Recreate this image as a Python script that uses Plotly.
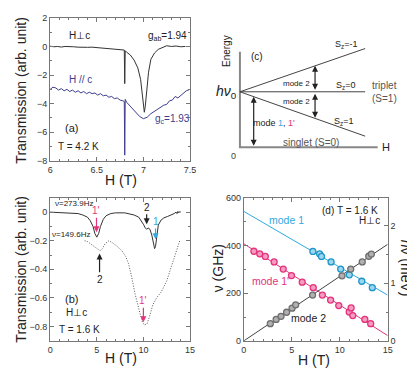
import plotly.graph_objects as go

# ---------------- data ----------------
# (a) transmission vs field, 4.2 K
a_perp_h = [6.00, 6.04, 6.08, 6.12, 6.16, 6.20, 6.25, 6.30, 6.35, 6.40, 6.45, 6.50, 6.55, 6.60, 6.65, 6.70,
            6.75, 6.795, 6.80, 6.805, 6.82, 6.86, 6.90, 6.94, 6.97, 6.99, 7.01, 7.02, 7.035, 7.055, 7.08,
            7.12, 7.16, 7.20, 7.25, 7.30, 7.35, 7.40, 7.45]
a_perp_t = [0.02, -0.02, 0.0, -0.04, 0.0, -0.03, -0.02, -0.05, -0.03, -0.06, -0.05, -0.08, -0.07, -0.1, -0.12, -0.16,
            -0.2, -0.25, -2.6, -0.3, -0.4, -0.6, -0.95, -1.5, -2.3, -3.5, -4.6, -4.2, -3.0, -1.8, -0.9,
            -0.45, -0.2, -0.08, 0.05, 0.0, 0.03, -0.02, 0.0]
a_par_h = [6.00, 6.03, 6.06, 6.09, 6.12, 6.15, 6.18, 6.21, 6.24, 6.27, 6.30, 6.33, 6.36, 6.39, 6.42, 6.45,
           6.48, 6.51, 6.54, 6.57, 6.60, 6.63, 6.66, 6.69, 6.72, 6.75, 6.78, 6.795, 6.80, 6.805, 6.82,
           6.86, 6.91, 6.96, 7.00, 7.04, 7.08, 7.13, 7.19, 7.22, 7.25, 7.28, 7.31, 7.34, 7.37, 7.40,
           7.43, 7.46, 7.50]
a_par_t = [-3.0, -2.85, -2.9, -3.05, -2.95, -3.1, -3.0, -3.15, -3.05, -3.2, -3.1, -3.25, -3.15, -3.3, -3.2, -3.3,
           -3.25, -3.4, -3.3, -3.45, -3.4, -3.55, -3.5, -3.65, -3.6, -3.75, -3.8, -3.85, -7.6, -3.7, -3.9,
           -4.2, -4.5, -4.9, -5.05, -4.95, -4.7, -4.5, -4.25, -4.1, -4.05, -3.8, -3.75, -3.5, -3.6, -3.45,
           -3.3, -3.1, -3.0]

# (b) transmission at 1.6 K
b_hi_h = [0, 1, 2, 3, 3.5, 4.0, 4.3, 4.6, 4.8, 5.0, 5.2, 5.4, 5.7, 6.0, 6.5, 7, 8, 9, 9.5, 9.8, 10.0,
          10.2, 10.35, 10.5, 10.7, 10.9, 11.05, 11.2, 11.3, 11.45, 11.6, 11.9, 12.2, 12.6, 13.0, 13.3,
          13.5, 13.6, 13.7, 13.8, 13.9, 14.0]
b_hi_t = [0, -0.005, -0.005, -0.01, -0.02, -0.035, -0.06, -0.1, -0.15, -0.175, -0.15, -0.1, -0.05, -0.025,
          -0.01, -0.005, -0.005, -0.02, -0.035, -0.06, -0.085, -0.11, -0.12, -0.11, -0.12, -0.16, -0.22,
          -0.255, -0.24, -0.16, -0.09, -0.055, -0.04, -0.03, -0.02, -0.01, 0.0, -0.01, 0.005, -0.005, 0.005, 0.0]
b_lo_h = [3.7, 4.0, 4.4, 4.8, 5.1, 5.35, 5.6, 5.9, 6.3, 6.7, 7.2, 7.7, 8.1, 8.4, 8.7, 9.1, 9.6, 9.9,
          10.1, 10.4, 10.7, 11.0, 11.4, 11.9, 12.5, 13.0, 13.3, 13.6, 13.9]
b_lo_t = [-0.2, -0.205, -0.225, -0.245, -0.26, -0.27, -0.255, -0.22, -0.2, -0.215, -0.24, -0.27, -0.31,
          -0.36, -0.44, -0.57, -0.7, -0.77, -0.79, -0.78, -0.72, -0.65, -0.6, -0.56, -0.48, -0.38, -0.32,
          -0.25, -0.2]

# (c) level scheme: S_z levels vs H (schematic units)
lvl_h = [0, 1.0]
lvl_m1 = [1.0, 1.78]
lvl_0 = [1.0, 1.0]
lvl_p1 = [1.0, 0.2]

# (d) frequency-field diagram
m1p_h = [1.05, 1.66, 2.24, 3.16, 4.11, 4.97, 6.09, 7.24, 8.19, 9.05, 9.9, 10.99, 11.19, 11.36, 12.62, 13.23]
m1p_v = [376, 365, 354, 331, 301, 274, 246, 223, 192, 171, 148, 121, 138, 106, 90, 72]
m1_h = [7.2, 7.9, 8.1, 9.1, 10.1, 11.0, 12.3, 13.4]
m1_v = [375, 365, 354, 331, 301, 277, 250, 223]
m2_h = [2.76, 3.37, 3.88, 4.46, 5.03, 5.41, 7.17, 10.24, 11.15, 12.35, 13.03, 13.3]
m2_v = [72, 90, 103, 120, 137, 151, 192, 273, 301, 331, 355, 364]
fit_h = [0, 15]
m1_fit = [543, 192]
m1p_fit = [407, 22]
m2_fit = [0, 405]
GHZ_PER_MEV = 241.8

PINK = '#e4327c'
CYAN = '#2fa9df'
PURPLE = '#3d3d8f'
FONT = 'Liberation Sans, Arial, sans-serif'

W, H = 415, 368


def px_x(p):
    return p / W


def px_y(p):
    return 1 - p / H


fig = go.Figure()

# (a)
fig.add_trace(go.Scatter(x=a_perp_h, y=a_perp_t, mode='lines', line=dict(color='#333', width=1),
                         xaxis='x', yaxis='y'))
fig.add_trace(go.Scatter(x=a_par_h, y=a_par_t, mode='lines', line=dict(color=PURPLE, width=1),
                         xaxis='x', yaxis='y'))
# (b)
fig.add_trace(go.Scatter(x=b_hi_h, y=b_hi_t, mode='lines', line=dict(color='#333', width=1),
                         xaxis='x2', yaxis='y2'))
fig.add_trace(go.Scatter(x=b_lo_h, y=b_lo_t, mode='lines',
                         line=dict(color='#555', width=1, dash='1px,1.6px'),
                         xaxis='x2', yaxis='y2'))
# (d) lines and points
fig.add_trace(go.Scatter(x=fit_h, y=m1_fit, mode='lines', line=dict(color=CYAN, width=1),
                         xaxis='x3', yaxis='y3'))
fig.add_trace(go.Scatter(x=fit_h, y=m1p_fit, mode='lines', line=dict(color=PINK, width=1),
                         xaxis='x3', yaxis='y3'))
fig.add_trace(go.Scatter(x=fit_h, y=m2_fit, mode='lines', line=dict(color='#444', width=1),
                         xaxis='x3', yaxis='y3'))
fig.add_trace(go.Scatter(x=m1p_h, y=m1p_v, mode='markers', xaxis='x3', yaxis='y3',
                         marker=dict(size=6, color='#f59cc0', line=dict(color=PINK, width=1.3))))
fig.add_trace(go.Scatter(x=m1_h, y=m1_v, mode='markers', xaxis='x3', yaxis='y3',
                         marker=dict(size=6, color='#9ad6ef', line=dict(color='#1f95c8', width=1.3))))
fig.add_trace(go.Scatter(x=m2_h, y=m2_v, mode='markers', xaxis='x3', yaxis='y3',
                         marker=dict(size=6, color='#b0b0b0', line=dict(color='#6e6e6e', width=1.3))))
# invisible trace to carry the meV axis
fig.add_trace(go.Scatter(x=m2_h, y=[v / GHZ_PER_MEV for v in m2_v], mode='markers', opacity=0,
                         xaxis='x3', yaxis='y5', hoverinfo='skip'))

# (c) scheme
fig.add_trace(go.Scatter(x=[0, 0, 1.1], y=[1.72, 0, 0], mode='lines', line=dict(color='#888', width=2),
                         xaxis='x4', yaxis='y4'))
for lv in (lvl_m1, lvl_0, lvl_p1):
    fig.add_trace(go.Scatter(x=lvl_h, y=lv, mode='lines', line=dict(color='#444', width=1),
                             xaxis='x4', yaxis='y4'))


def ax_style(**kw):
    d = dict(showline=True, linecolor='#777', linewidth=1, mirror='ticks', ticks='inside', ticklen=4,
             tickcolor='#777', tickfont=dict(size=9, color='#333', family=FONT), showgrid=False,
             zeroline=False, fixedrange=True)
    d.update(kw)
    return d


def minor(step):
    return dict(ticks='inside', ticklen=2, tickcolor='#777', dtick=step, showgrid=False)


dom_left = [px_x(40), px_x(183)]
dom_d = [px_x(238), px_x(385)]
dom_bot = [px_y(337), px_y(190)]

fig.update_layout(
    width=W, height=H, margin=dict(l=0, r=0, t=0, b=0),
    paper_bgcolor='white', plot_bgcolor='white', showlegend=False,
    font=dict(family=FONT, color='#222'),
    xaxis=ax_style(domain=dom_left, anchor='y', range=[6, 7.5], dtick=0.5, minor=minor(0.1)),
    yaxis=ax_style(domain=[px_y(152), px_y(5)], anchor='x', range=[-8, 2], dtick=2, minor=minor(1)),
    xaxis2=ax_style(domain=dom_left, anchor='y2', range=[0, 15], dtick=5, minor=minor(1)),
    yaxis2=ax_style(domain=dom_bot, anchor='x2', range=[-0.9, 0.1], tick0=0, dtick=0.2, minor=minor(0.1)),
    xaxis3=ax_style(domain=dom_d, anchor='y3', range=[0, 15], dtick=5, minor=minor(1)),
    yaxis3=ax_style(domain=dom_bot, anchor='x3', range=[0, 600], dtick=200, minor=minor(100), mirror=False),
    yaxis5=ax_style(overlaying='y3', anchor='x3', side='right', range=[0, 600 / GHZ_PER_MEV], dtick=1,
                    minor=minor(0.5), mirror=False),
    xaxis4=dict(domain=[px_x(210), px_x(410)], anchor='y4', range=[-0.1875, 1.375], visible=False,
                fixedrange=True),
    yaxis4=dict(domain=[px_y(150), px_y(20)], anchor='x4', range=[-0.2105, 2.07], visible=False,
                fixedrange=True),
)

ann = []


def txt(x, y, s, ref, size=10, color='#222', **kw):
    if ref is None:
        xr, yr = 'paper', 'paper'
    elif ref == '1':
        xr, yr = 'x', 'y'
    else:
        xr, yr = 'x' + ref, 'y' + ref
    d = dict(x=x, y=y, text=s, xref=xr, yref=yr, showarrow=False, xanchor='center', yanchor='middle',
             font=dict(size=size, color=color, family=FONT))
    d.update(kw)
    ann.append(d)


def arrow(x, y, ax, ay, ref, s='', color='#222', size=10, both=False):
    d = dict(x=x, y=y, ax=ax, ay=ay, xref='x' + ref, yref='y' + ref, axref='x' + ref, ayref='y' + ref,
             text=s, showarrow=True, arrowhead=2, arrowsize=1, arrowwidth=1.2, arrowcolor=color,
             font=dict(size=size, color=color, family=FONT), standoff=0, startstandoff=0)
    if both:
        d['arrowside'] = 'end+start'
        d['startarrowhead'] = 2
    ann.append(d)


# axis titles
txt(px_x(10), px_y(79), 'Transmission (arb. unit)', None, size=14, textangle=-90)
txt(px_x(10), px_y(263), 'Transmission (arb. unit)', None, size=14, textangle=-90)
txt(px_x(112), px_y(172), 'H (T)', None, size=14)
txt(px_x(112), px_y(355), 'H (T)', None, size=14)
txt(px_x(310), px_y(357), 'H (T)', None, size=14)
txt(px_x(211), px_y(262), 'ν (GHz)', None, size=14, textangle=-90)
txt(px_x(404), px_y(262), '<i>h</i>ν (meV)', None, size=14, textangle=90)

# (a) labels
txt(6.32, 0.77, 'H⊥c', '1')
txt(7.26, 0.75, 'g<sub>ab</sub>=1.94', '1')
txt(6.33, -2.33, 'H // c', '1', color=PURPLE)
txt(7.31, -5.1, 'g<sub>c</sub>=1.93', '1', color=PURPLE)
txt(6.23, -5.67, '(a)', '1', size=11)
txt(6.305, -7.0, 'T = 4.2 K', '1')

# (b) labels
txt(2.55, 0.06, 'ν=273.9Hz', '2', size=8)
txt(2.2, -0.155, 'ν=149.6Hz', '2', size=8)
txt(2.28, -0.61, '(b)', '2', size=11)
txt(2.8, -0.70, 'H⊥c', '2')
txt(3.1, -0.82, 'T = 1.6 K', '2')
arrow(4.97, -0.14, 4.97, 0.01, '2', "1'", color=PINK)
arrow(10.35, -0.085, 10.35, 0.035, '2', '2')
arrow(11.3, -0.19, 11.3, -0.065, '2', '1', color=CYAN)
arrow(5.3, -0.29, 5.3, -0.47, '2', '2')
arrow(10.0, -0.77, 10.0, -0.62, '2', "1'", color=PINK)

# (c) labels
txt(-0.109, 1.74, 'Energy', '4', size=10, textangle=-90)
txt(0.14, 1.63, '(c)', '4', size=10)
txt(-0.005, 1.0, '<i>hν</i><sub>0</sub>', '4', size=14, xanchor='right')
txt(-0.05, -0.16, '0', '4', size=9, color='#444')
txt(1.17, 0.0, 'H', '4', size=11)
txt(0.85, 1.86, 'S<sub>z</sub>=-1', '4', size=9)
txt(0.84, 1.105, 'S<sub>z</sub>=0', '4', size=9)
txt(0.83, 0.456, 'S<sub>z</sub>=1', '4', size=9)
txt(1.04, 1.105, 'triplet', '4', size=10, color='#555', xanchor='left')
txt(1.04, 0.877, '(S=1)', '4', size=10, color='#555', xanchor='left')
txt(0.57, 0.088, 'singlet (S=0)', '4', size=10, color='#555')
txt(0.45, 1.158, 'mode 2', '4', size=8)
txt(0.45, 0.825, 'mode 2', '4', size=8)
txt(0.27, 0.44, "mode <span style='color:%s'>1</span>, <span style='color:%s'>1'</span>" % (CYAN, PINK),
    '4', size=9)
arrow(0.6, 1.47, 0.6, 1.01, '4', both=True)
arrow(0.6, 0.53, 0.6, 0.99, '4', both=True)
arrow(0.11, 0.91, 0.11, 0.0, '4', both=True)

# (d) labels
txt(4.5, 505, 'mode 1', '3', size=10.5, color=CYAN)
txt(2.8, 253, "mode 1'", '3', size=10.5, color=PINK)
txt(6.7, 97, 'mode 2', '3', size=10.5)
txt(8.8, 546, '(d)', '3', size=10)
txt(11.9, 546, 'T = 1.6 K', '3', size=10)
txt(13.1, 505, 'H⊥c', '3', size=10)

fig.update_layout(annotations=ann)

fig.write_html("out.html")
